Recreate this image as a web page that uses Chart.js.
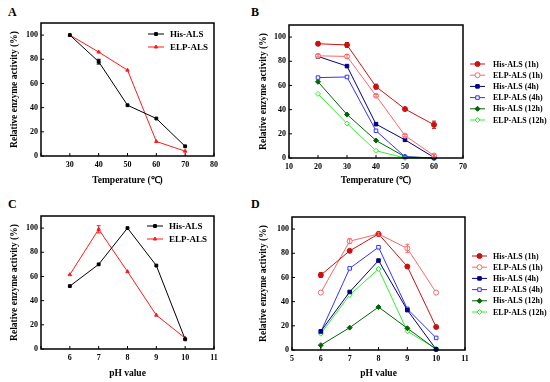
<!DOCTYPE html>
<html><head><meta charset="utf-8">
<script src="https://cdn.jsdelivr.net/npm/chart.js@4/dist/chart.umd.min.js"></script>
<style>
body{margin:0;background:#fff;width:550px;height:382px;position:relative;overflow:hidden}
canvas{position:absolute}
.lbl{position:absolute;font:bold 12px "Liberation Serif",serif;line-height:12px;color:#000}
</style></head><body>
<div class="lbl" style="left:8px;top:6px">A</div>
<div class="lbl" style="left:251px;top:6px">B</div>
<div class="lbl" style="left:8px;top:198px">C</div>
<div class="lbl" style="left:251px;top:198px">D</div>
<canvas id="cA" width="275" height="191" style="left:0;top:0"></canvas>
<canvas id="cB" width="305" height="191" style="left:245px;top:0"></canvas>
<canvas id="cC" width="275" height="191" style="left:0;top:191px"></canvas>
<canvas id="cD" width="305" height="191" style="left:245px;top:191px"></canvas>
<script>
// ---- data ----
const tempA = [30, 40, 50, 60, 70];
const hisA = [100, 78, 42, 31, 8];
const elpA = [100, 86, 71, 12, 4];
const hisAErr = [0, 2, 0, 0, 0];
const elpAErr = [0, 0, 0, 0, 0];

const tempB = [20, 30, 40, 50, 60];
const his1hB = [94.5, 93.5, 59, 40.5, 27.5];
const elp1hB = [84.5, 84, 51.5, 18.5, 2];
const his4hB = [84, 76, 28, 15, 0.5];
const elp4hB = [66.5, 67, 22.5, 1, 0];
const his12hB = [63, 36, 14.5, 1, 0];
const elp12hB = [53, 28.5, 6, 0, 0];
const his1hBErr = [1.5, 2, 2, 0, 3];
const elp1hBErr = [1, 1.5, 1, 1, 1];

const phC = [6, 7, 8, 9, 10];
const hisC = [52, 70, 100, 69, 8];
const elpC = [61.5, 99, 64, 28, 9];
const hisCErr = [0, 0, 0, 0, 0];
const elpCErr = [0, 3, 0, 0, 0];

const phD = [6, 7, 8, 9, 10];
const his1hD = [62, 82, 96, 69, 19];
const elp1hD = [47.5, 90, 96, 84, 47.5];
const his4hD = [15.5, 48, 74, 33, 0.5];
const elp4hD = [15, 67.5, 85, 34, 10];
const his12hD = [4, 18.5, 35.5, 18, 0.5];
const elp12hD = [13.5, 45.5, 67, 15.5, 1];
const his1hDErr = [2, 1, 1, 1, 0];
const elp1hDErr = [0, 2, 1, 3.5, 0];

const labelsTwo = ['His-ALS', 'ELP-ALS'];
const labelsSix = ['His-ALS (1h)', 'ELP-ALS (1h)', 'His-ALS (4h)', 'ELP-ALS (4h)', 'His-ALS (12h)', 'ELP-ALS (12h)'];

// ---- styling ----
const SERIF = '"Liberation Serif","Times New Roman",serif';
Chart.defaults.font.family = SERIF;
Chart.defaults.font.weight = 'bold';
Chart.defaults.font.size = 8;
Chart.defaults.color = '#000';

const pts = (xs, ys) => xs.map((x, i) => ({x, y: ys[i]}));

const framePlugin = {
  id: 'frame',
  afterDatasetsDraw(chart) {
    const {ctx, chartArea: a, scales} = chart;
    ctx.save();
    ctx.strokeStyle = '#000';
    ctx.lineWidth = 1;
    const xs = scales.x, ys = scales.y;
    ctx.beginPath();
    xs.ticks.forEach(t => { const p = xs.getPixelForValue(t.value); ctx.moveTo(p, a.bottom); ctx.lineTo(p, a.bottom - 3); });
    ys.ticks.forEach(t => { const p = ys.getPixelForValue(t.value); ctx.moveTo(a.left, p); ctx.lineTo(a.left + 3, p); });
    ctx.stroke();
    ctx.lineWidth = 1.5;
    ctx.strokeRect(a.left, a.top, a.right - a.left, a.bottom - a.top);
    ctx.restore();
  }
};

const errPlugin = {
  id: 'errbars',
  afterDatasetsDraw(chart) {
    const {ctx} = chart;
    const ys = chart.scales.y;
    chart.data.datasets.forEach((ds, di) => {
      if (!ds.errors) return;
      const meta = chart.getDatasetMeta(di);
      ctx.save();
      ctx.strokeStyle = ds.borderColor;
      ctx.lineWidth = 1;
      meta.data.forEach((el, i) => {
        const e = ds.errors[i];
        if (!e) return;
        const v = ds.data[i].y;
        const y1 = ys.getPixelForValue(v + e), y2 = ys.getPixelForValue(v - e);
        ctx.beginPath();
        ctx.moveTo(el.x, y1); ctx.lineTo(el.x, y2);
        ctx.moveTo(el.x - 2, y1); ctx.lineTo(el.x + 2, y1);
        ctx.moveTo(el.x - 2, y2); ctx.lineTo(el.x + 2, y2);
        ctx.stroke();
      });
      ctx.restore();
    });
  }
};

const legendPlugin = {
  id: 'miniLegend',
  afterDraw(chart, args, o) {
    if (!o || o.x0 === undefined) return;
    const {ctx} = chart;
    ctx.save();
    ctx.font = 'bold ' + o.size + 'px ' + SERIF;
    ctx.textBaseline = 'middle';
    ctx.fillStyle = '#000';
    chart.data.datasets.forEach((ds, i) => {
      const y = o.y + i * o.dy;
      ctx.strokeStyle = ds.borderColor;
      ctx.lineWidth = 1;
      ctx.beginPath(); ctx.moveTo(o.x0, y); ctx.lineTo(o.x1, y); ctx.stroke();
      ctx.fillStyle = ds.pointBackgroundColor;
      ctx.strokeStyle = ds.pointBorderColor;
      ctx.lineWidth = ds.pointBorderWidth || 1;
      Chart.helpers.drawPoint(ctx, {pointStyle: ds.pointStyle, radius: ds.pointRadius, borderWidth: ds.pointBorderWidth || 1, rotation: ds.pointRotation || 0}, (o.x0 + o.x1) / 2, y);
      ctx.fillStyle = '#000';
      ctx.fillText(ds.label, o.tx, y + 0.5);
    });
    ctx.restore();
  }
};

function ds(label, xs, ys, color, style, filled, radius, errs) {
  return {
    label, data: pts(xs, ys), borderColor: color, borderWidth: 1,
    pointStyle: style, pointRadius: radius, pointHoverRadius: radius,
    pointBackgroundColor: filled ? color : '#fff', pointBorderColor: color, pointBorderWidth: 1,
    errors: errs || null, tension: 0, clip: false, fill: false
  };
}

function makeChart(id, datasets, geo, xr, xtitle, hideFirst, legend) {
  const c = document.getElementById(id);
  return new Chart(c, {
    type: 'line',
    data: {datasets},
    options: {
      responsive: false, animation: false, events: [],
      layout: {padding: {left: 0, top: geo.T, right: c.width - geo.R, bottom: 0}},
      plugins: {legend: {display: false}, tooltip: {enabled: false}, miniLegend: legend},
      scales: {
        x: {
          type: 'linear', min: xr[0], max: xr[1],
          ticks: {stepSize: xr[2], padding: 4, font: {size: 8, weight: 'bold'}, color: '#000',
            callback: (v) => (hideFirst && v === xr[0]) ? '' : String(v)},
          grid: {display: false, drawTicks: false},
          border: {display: false},
          title: {display: true, text: xtitle, font: {size: 9.5, weight: 'bold'}, color: '#000', padding: {top: 0, bottom: geo.xtPad}},
          afterFit: (s) => { s.height = c.height - geo.B; }
        },
        y: {
          type: 'linear', min: 0, max: 110,
          ticks: {stepSize: 20, includeBounds: false, padding: 3, font: {size: 8, weight: 'bold'}, color: '#000'},
          grid: {display: false, drawTicks: false},
          border: {display: false},
          title: {display: true, text: 'Relative enzyme activity (%)', font: {size: 9.5, weight: 'bold'}, color: '#000', padding: {top: geo.ytPad, bottom: 0}},
          afterFit: (s) => { s.width = geo.L; }
        }
      }
    },
    plugins: [framePlugin, errPlugin, legendPlugin]
  });
}

const BLACK = '#000000', RED = '#ff1a1a';
const C1 = '#cc1111', C2 = '#ff6666', C3 = '#000080', C4 = '#3333ff', C5 = '#006600', C6 = '#33ee33';

makeChart('cA', [
  ds(labelsTwo[0], tempA, hisA, BLACK, 'rect', true, 2, hisAErr),
  ds(labelsTwo[1], tempA, elpA, RED, 'triangle', true, 2, elpAErr)
], {L: 41, R: 214, T: 23, B: 156, ytPad: 9, xtPad: 5}, [20, 80, 10], 'Temperature (℃)', true,
  {x0: 148, x1: 164, tx: 170, y: 34, dy: 13, size: 9});

makeChart('cB', [
  ds(labelsSix[0], tempB, his1hB, C1, 'circle', true, 2.5, his1hBErr),
  ds(labelsSix[1], tempB, elp1hB, C2, 'circle', false, 2.5, elp1hBErr),
  ds(labelsSix[2], tempB, his4hB, C3, 'rect', true, 2.5),
  ds(labelsSix[3], tempB, elp4hB, C4, 'rect', false, 2.5),
  ds(labelsSix[4], tempB, his12hB, C5, 'rectRot', true, 2.5),
  ds(labelsSix[5], tempB, elp12hB, C6, 'rectRot', false, 2.5)
], {L: 44, R: 218, T: 25, B: 158, ytPad: 13, xtPad: 5}, [10, 70, 10], 'Temperature (℃)', false,
  {x0: 225, x1: 240, tx: 248, y: 64, dy: 11.2, size: 8});

makeChart('cC', [
  ds(labelsTwo[0], phC, hisC, BLACK, 'rect', true, 2, hisCErr),
  ds(labelsTwo[1], phC, elpC, RED, 'triangle', true, 2, elpCErr)
], {L: 41, R: 214, T: 25, B: 158, ytPad: 9, xtPad: 3}, [5, 11, 1], 'pH value', true,
  {x0: 147, x1: 163, tx: 169, y: 35, dy: 13, size: 9});

makeChart('cD', [
  ds(labelsSix[0], phD, his1hD, C1, 'circle', true, 2.5, his1hDErr),
  ds(labelsSix[1], phD, elp1hD, C2, 'circle', false, 2.5, elp1hDErr),
  ds(labelsSix[2], phD, his4hD, C3, 'rect', true, 2.5),
  ds(labelsSix[3], phD, elp4hD, C4, 'rect', false, 2.5),
  ds(labelsSix[4], phD, his12hD, C5, 'rectRot', true, 2.5),
  ds(labelsSix[5], phD, elp12hD, C6, 'rectRot', false, 2.5)
], {L: 47, R: 220, T: 26, B: 159, ytPad: 13, xtPad: 3}, [5, 11, 1], 'pH value', false,
  {x0: 227, x1: 242, tx: 248, y: 65, dy: 11.2, size: 8});
</script>
</body></html>
